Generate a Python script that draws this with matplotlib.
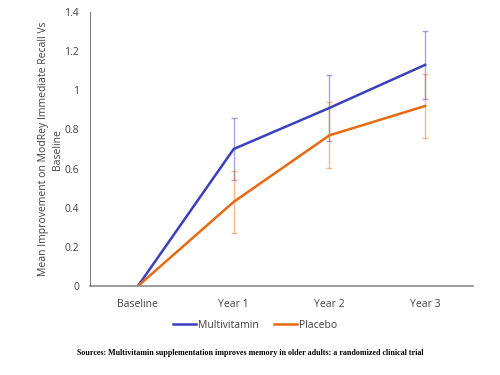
import matplotlib.pyplot as plt

# data
years = ["Baseline", "Year 1", "Year 2", "Year 3"]
multivitamin = [0, 0.70, 0.91, 1.13]
multivitamin_err = [0, 0.16, 0.17, 0.175]
placebo = [0, 0.43, 0.77, 0.92]
placebo_err = [0, 0.157, 0.168, 0.165]

blue = '#3a3fbd'
orange = '#e8690f'

plt.rcParams['font.family'] = ['Open Sans', 'DejaVu Sans']

fig = plt.figure(figsize=(5, 3.75), dpi=100)
ax = fig.add_axes([0.18, 0.237, 0.766, 0.731])

x = range(len(years))

# error bars, lighter than the lines
ax.errorbar(x[1:], multivitamin[1:], yerr=multivitamin_err[1:], fmt='none',
            ecolor=blue, alpha=0.45, elinewidth=1, capsize=2, capthick=1)
ax.errorbar(x[1:], placebo[1:], yerr=placebo_err[1:], fmt='none',
            ecolor=orange, alpha=0.45, elinewidth=1, capsize=2, capthick=1)

ax.plot(x, multivitamin, color=blue, lw=1.8, label='Multivitamin')
ax.plot(x, placebo, color=orange, lw=1.8, label='Placebo')

ax.set_xlim(-0.5, 3.5)
ax.set_ylim(0, 1.4)
ax.set_yticks([0, 0.2, 0.4, 0.6, 0.8, 1, 1.2, 1.4])
ax.set_yticklabels(['0', '0.2', '0.4', '0.6', '0.8', '1', '1.2', '1.4'])
ax.set_xticks(list(x))
ax.set_xticklabels(years)
ax.tick_params(length=0, labelsize=7.5, colors='#404040')
ax.tick_params(axis='x', pad=9)
ax.tick_params(axis='y', pad=8)

for s in ['top', 'right']:
    ax.spines[s].set_visible(False)
ax.spines['left'].set_color('#7f7f7f')
ax.spines['bottom'].set_color('#8c8c8c')
ax.spines['bottom'].set_linewidth(1.2)

ax.set_ylabel('Mean Improvement on ModRey Immediate Recall Vs\nBaseline',
              fontsize=7.5, color='#404040', labelpad=1, linespacing=1.4)

fig.legend(loc='center', bbox_to_anchor=(0.51, 0.133), ncol=2,
           frameon=False, fontsize=7.5, handlelength=2.2, handletextpad=0.2,
           columnspacing=1.5, labelcolor='#404040')

fig.text(0.5, 0.058, 'Sources: Multivitamin supplementation improves memory in older adults: a randomized clinical trial',
         ha='center', va='center', fontsize=5.8, fontweight='bold', family='Liberation Serif')

fig.savefig('out.png', dpi=100)
